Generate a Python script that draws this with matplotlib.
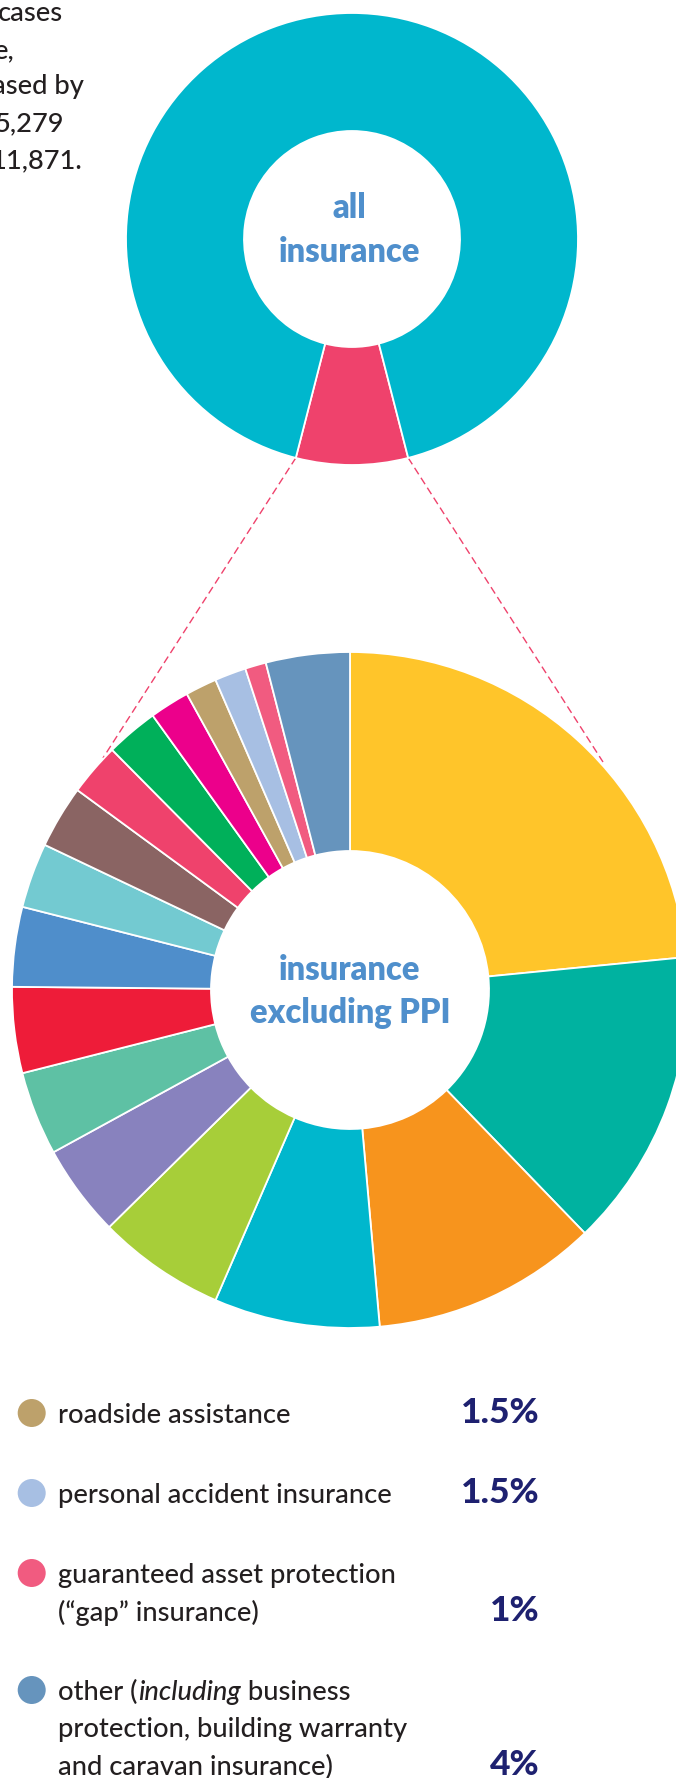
import matplotlib
matplotlib.use("Agg")
import matplotlib.pyplot as plt
from matplotlib.patches import Circle
import numpy as np

# ---------------- data ----------------
all_labels = ["insurance excluding PPI", "payment protection insurance"]
all_share = [8, 92]
all_colors = ["#EF426C", "#00B7CD"]

excl_labels = ["category 1", "category 2", "category 3", "category 4", "category 5",
               "category 6", "category 7", "category 8", "category 9", "category 10",
               "category 11", "category 12", "category 13", "category 14",
               "roadside assistance", "personal accident insurance",
               "guaranteed asset protection (\u201cgap\u201d insurance)",
               "other (including business protection, building warranty and caravan insurance)"]
excl_share = [23.4, 14.3, 10.8, 7.9, 6.1, 4.4, 4.0, 4.1, 3.8, 3.1, 3.0, 2.5, 2.5, 1.9,
              1.5, 1.5, 1, 4]
excl_colors = ["#FFC52A", "#00B2A0", "#F7941D", "#00B7CD", "#A7CE39", "#8882BE",
               "#5EC1A4", "#EE1C39", "#4F8ECB", "#73CAD1", "#8A6463", "#EF426C",
               "#00B05A", "#EC008B", "#BDA16B", "#A7BFE3", "#F15B80", "#6694BD"]

legend_lines = [["roadside assistance"],
                ["personal accident insurance"],
                ["guaranteed asset protection", "(\u201cgap\u201d insurance)"],
                ["other (|including| business", "protection, building warranty",
                 "and caravan insurance)"]]
legend_share = excl_share[-4:]
legend_colors = excl_colors[-4:]

intro_lines = ["cases", "e,", "ased by", "5,279", "11,871."]

# ---------------- layout ----------------
W, H = 676, 1778
fig = plt.figure(figsize=(W / 100, H / 100), dpi=100)
ax = fig.add_axes([0, 0, 1, 1])
ax.set_axis_off()


def Y(y):
    return H - y


TEXT = "#231F20"
BLUE = "#4F8FCC"
NAVY = "#1E2170"
BODY = ["Lato", "DejaVu Sans"]
BW = "medium"
renderer = fig.canvas.get_renderer()


def fit(t, target_w):
    bb = t.get_window_extent(renderer)
    t.set_fontsize(t.get_fontsize() * target_w / bb.width)
    return t.get_fontsize()


# top donut
c1 = (352, Y(239))
r1o, r1i = 226, 108
start1 = -90 + all_share[0] / sum(all_share) * 360 / 2
w1, _ = ax.pie(all_share, colors=all_colors, startangle=start1, counterclock=False,
               radius=r1o, center=c1, frame=False,
               wedgeprops=dict(width=r1o - r1i, edgecolor="white", linewidth=1.3))

# bottom donut
c2 = (350, Y(990))
r2o, r2i = 338, 139
w2, _ = ax.pie(excl_share, colors=excl_colors, startangle=90, counterclock=False,
               radius=r2o, center=c2, frame=False,
               wedgeprops=dict(width=r2o - r2i, edgecolor="white", linewidth=1.3))

ax.set_xlim(0, W)
ax.set_ylim(0, H)
ax.set_aspect("auto")

# dashed connector lines from the corners of the highlighted wedge
pw = w1[0]
corners = []
for ang in (pw.theta1, pw.theta2):
    a = np.deg2rad(ang)
    corners.append((c1[0] + r1o * np.cos(a), c1[1] + r1o * np.sin(a)))
corners.sort(key=lambda p: p[0])
ends = [(103, Y(758)), (603, Y(762))]
for (sx, sy), end in zip(corners, ends):
    ax.plot([sx, end[0]], [sy, end[1]], color="#EF426C", lw=1.0,
            dashes=(5.5, 3.0), zorder=0.5, solid_capstyle="butt")

# center labels
t = ax.text(349, Y(262), "insurance", color=BLUE, fontsize=22, fontweight="heavy",
            family=BODY, ha="center", va="baseline")
cs = fit(t, 142)
ax.text(349, Y(218), "all", color=BLUE, fontsize=cs, fontweight="heavy",
        family=BODY, ha="center", va="baseline")
ax.text(350, Y(980), "insurance", color=BLUE, fontsize=cs, fontweight="heavy",
        family=BODY, ha="center", va="baseline")
ax.text(350, Y(1023), "excluding PPI", color=BLUE, fontsize=cs, fontweight="heavy",
        family=BODY, ha="center", va="baseline")

# body font size from legend
t = ax.text(58, Y(1503), legend_lines[1][0], color=TEXT, fontsize=19, family=BODY,
            fontweight=BW, ha="left", va="baseline")
bs = fit(t, 332)

# intro text fragments (cut off at left edge, as in the source)
intro_right = [63, 15, 84, 64, 83]
intro_base = [21, 58, 94, 131, 168]
for s, xr, yb in zip(intro_lines, intro_right, intro_base):
    ax.text(xr, Y(yb), s, color=TEXT, fontsize=bs, family=BODY, fontweight=BW,
            ha="right", va="baseline")

# legend
dot_y = [1413, 1493, 1573, 1690]
first_base = [1423, 1503, 1583, 1700]
pct_base = [1423, 1503, 1621, 1775]
lh = 37.5
pct_size = None
for i, (lines, v, col) in enumerate(zip(legend_lines, legend_share, legend_colors)):
    ax.add_patch(Circle((31.7, Y(dot_y[i])), 14, color=col, lw=0))
    for j, line in enumerate(lines):
        yb = Y(first_base[i] + j * lh)
        if i == 1 and j == 0:
            continue
        if "|" in line:
            a, b, c = line.split("|")
            t1 = ax.text(58, yb, a, color=TEXT, fontsize=bs, family=BODY, fontweight=BW,
                         ha="left", va="baseline")
            x1 = t1.get_window_extent(renderer).x1
            t2 = ax.text(x1 + 1, yb, b, color=TEXT, fontsize=bs, family=BODY,
                         fontweight=BW, style="italic", ha="left", va="baseline")
            x2 = t2.get_window_extent(renderer).x1
            ax.text(x2, yb, c, color=TEXT, fontsize=bs, family=BODY, fontweight=BW,
                    ha="left", va="baseline")
        else:
            ax.text(58, yb, line, color=TEXT, fontsize=bs, family=BODY, fontweight=BW,
                    ha="left", va="baseline")
    label = f"{v:g}%"
    tp = ax.text(540, Y(pct_base[i]), label, color=NAVY, fontsize=26,
                 fontweight="black", family=BODY, ha="right", va="baseline")
    if pct_size is None:
        pct_size = fit(tp, 79)
    else:
        tp.set_fontsize(pct_size)

fig.savefig("out.png", dpi=100)
